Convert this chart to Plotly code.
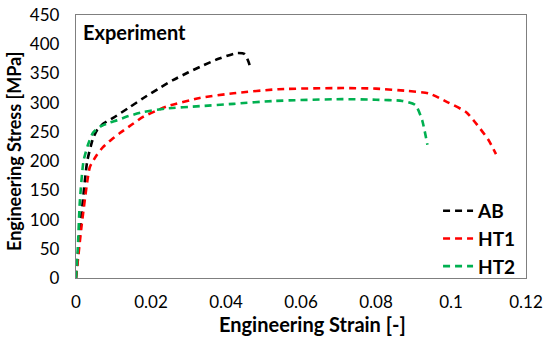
import plotly.graph_objects as go

ab_strain = [0, 0.0015, 0.003, 0.0045, 0.0056, 0.0075, 0.0099, 0.014, 0.018, 0.022, 0.026, 0.030, 0.034, 0.038, 0.043, 0.045, 0.046, 0.0465]
ab_stress = [0, 110, 200, 238, 253, 265, 274, 291, 308, 324, 339, 352, 364, 375, 385, 383, 370, 360]

ht1_strain = [0, 0.0015, 0.003, 0.0037, 0.0055, 0.0072, 0.0095, 0.0117, 0.015, 0.018, 0.024, 0.033, 0.042, 0.054, 0.071, 0.080, 0.0885, 0.094, 0.099, 0.104, 0.107, 0.110, 0.112]
ht1_stress = [0, 90, 165, 190, 210, 224, 237, 248, 263, 276, 293, 308, 316, 323, 325, 324, 320, 316, 301, 284, 262, 236, 212]

ht2_strain = [0, 0.0005, 0.001, 0.002, 0.0032, 0.0045, 0.0064, 0.009, 0.011, 0.014, 0.018, 0.024, 0.033, 0.042, 0.053, 0.071, 0.080, 0.087, 0.0905, 0.0923, 0.0937]
ht2_stress = [0, 53, 128, 200, 228, 248, 259, 266, 270, 277, 284, 290, 294, 298, 303, 306, 305, 303, 296, 270, 228]

x_ticks = [0, 0.02, 0.04, 0.06, 0.08, 0.1, 0.12]
x_tick_text = ["0", "0.02", "0.04", "0.06", "0.08", "0.1", "0.12"]
y_ticks = [0, 50, 100, 150, 200, 250, 300, 350, 400, 450]

FONT = "Lato"
W, H = 550, 339
l, r, t, b = 76, 24, 15, 61
pw, ph = W - l - r, H - t - b

fig = go.Figure()
for name, xs, ys, col in [("AB", ab_strain, ab_stress, "#000000"),
                          ("HT1", ht1_strain, ht1_stress, "#FF0000"),
                          ("HT2", ht2_strain, ht2_stress, "#00B050")]:
    fig.add_trace(go.Scatter(x=xs, y=ys, mode="lines", name="<b>" + name + "</b>",
                             line=dict(color=col, width=2.6, dash="7px,5px", shape="spline", smoothing=0.6)))

fig.update_layout(
    width=W, height=H,
    margin=dict(l=l, r=r, t=t, b=b),
    plot_bgcolor="white", paper_bgcolor="white",
    font=dict(family=FONT, size=17, color="#000000"),
    showlegend=True,
    legend=dict(x=0.989, y=-0.03, xanchor="right", yanchor="bottom", bgcolor="rgba(0,0,0,0)",
                font=dict(size=19, family=FONT), tracegroupgap=0, itemwidth=30,
                borderwidth=0),
    annotations=[
        dict(text="<b>Experiment</b>", x=0.012, y=0.99, xref="paper", yref="paper",
             xanchor="left", yanchor="top", showarrow=False,
             font=dict(size=20, family=FONT, color="#000000")),
        dict(text="<b>Engineering Strain [-]</b>", x=(312 - l) / pw, y=(H - b - 324) / ph,
             xref="paper", yref="paper", xanchor="center", yanchor="middle",
             showarrow=False, font=dict(size=20, family=FONT, color="#000000")),
        dict(text="<b>Engineering Stress [MPa]</b>", x=(14 - l) / pw, y=(H - b - 152) / ph,
             xref="paper", yref="paper", xanchor="center", yanchor="middle",
             showarrow=False, textangle=-90,
             font=dict(size=18, family=FONT, color="#000000")),
    ],
)

fig.update_xaxes(range=[0, 0.12], tickvals=x_ticks, ticktext=x_tick_text, automargin=False,
                 showgrid=False, zeroline=False, showline=True, linecolor="#7f7f7f", linewidth=1.3,
                 mirror=True, ticks="", tickfont=dict(size=17), ticklabelstandoff=8)
fig.update_yaxes(range=[0, 450], tickvals=y_ticks, automargin=False,
                 showgrid=False, zeroline=False, showline=True, linecolor="#7f7f7f", linewidth=1.3,
                 mirror=True, ticks="", tickfont=dict(size=17), ticklabelstandoff=12)

fig.write_html("out.html", config={"displayModeBar": False},
               post_script="document.body.style.margin='0';document.body.style.overflow='hidden';")
